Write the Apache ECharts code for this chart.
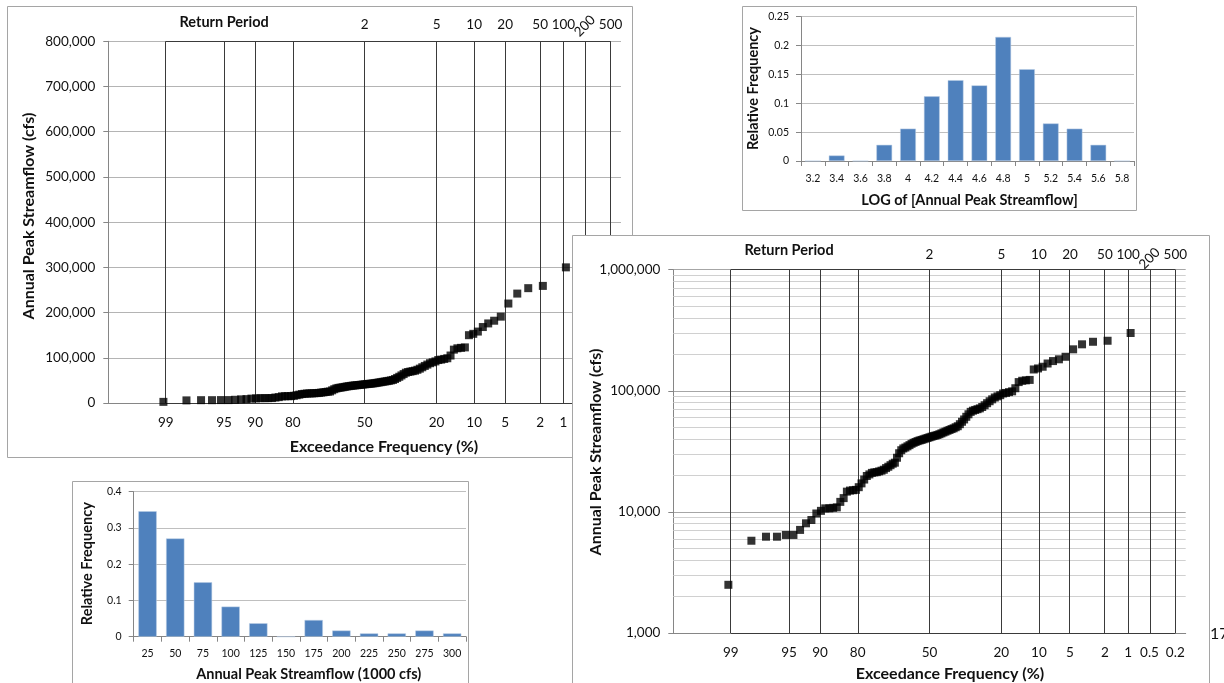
<!DOCTYPE html>
<html><head><meta charset="utf-8">
<script src="https://cdn.jsdelivr.net/npm/echarts/dist/echarts.min.js"></script>
<style>
body{margin:0;background:#fff;width:1224px;height:683px;overflow:hidden;position:relative}
.p{position:absolute;background:#fff}
#pg{position:absolute;left:1210px;top:623px;font:16px Lato;color:#111}
</style></head><body>
<div id="cA" class="p" style="left:7px;top:6px;width:626px;height:452px"></div>
<div id="cB" class="p" style="left:742px;top:6px;width:395px;height:205px"></div>
<div id="cC" class="p" style="left:72px;top:481px;width:397px;height:210px"></div>
<div id="cD" class="p" style="left:572px;top:235px;width:638px;height:460px"></div>
<div id="pg">17</div>
<script>
// ---------------- data ----------------
const exceedTicks = [99, 95, 90, 80, 50, 20, 10, 5, 2, 1, 0.5, 0.2];
const returnPeriods = [2, 5, 10, 20, 50, 100, 200, 500];
const returnTitle = 'Return Period';
const returnTitleAt = 95;
// annual peak streamflow (cfs), ranked from largest to smallest
const flows = [300000, 259000, 254000, 242000, 220000, 191000, 182000, 176000, 168000, 158000,
  153000, 150000, 123000, 122000, 121000, 118000, 105000, 99000, 97500, 96000,
  95000, 92000, 90000, 88000, 85000, 82000, 79000, 76000, 73500, 71600,
  70500, 69500, 68500, 67000, 64000, 61000, 58000, 55500, 53000, 51000,
  50000, 49000, 48300, 47500, 46800, 46000, 45300, 44500, 43800, 43200,
  42700, 42300, 41800, 41300, 40800, 40300, 39800, 39300, 38900, 38400,
  37800, 37200, 36500, 35600, 34800, 34000, 33400, 32300, 30500, 28000,
  25500, 25000, 24300, 23600, 23000, 22300, 21900, 21600, 21300, 21200,
  21000, 20400, 19800, 18500, 17200, 16000, 15200, 15100, 15000, 14700,
  13000, 12100, 10900, 10800, 10700, 10700, 10200, 9700, 8570, 8050,
  7100, 6450, 6450, 6240, 6240, 5780, 2500];
const linBins = ['25', '50', '75', '100', '125', '150', '175', '200', '225', '250', '275', '300'];
const linFreq = [0.346, 0.271, 0.150, 0.083, 0.037, 0, 0.046, 0.017, 0.009, 0.009, 0.017, 0.009];
const logBins = ['3.2', '3.4', '3.6', '3.8', '4', '4.2', '4.4', '4.6', '4.8', '5', '5.2', '5.4', '5.6', '5.8'];
const logFreq = [0, 0.0095, 0, 0.028, 0.056, 0.112, 0.140, 0.131, 0.215, 0.159, 0.065, 0.056, 0.028, 0];

// ---------------- helpers ----------------
const FONT = 'Lato';
const TXT = '#111';
const AX = '#868686';
function normInv(p){
  const a=[-3.969683028665376e+01,2.209460984245205e+02,-2.759285104469687e+02,1.383577518672690e+02,-3.066479806614716e+01,2.506628277459239e+00];
  const b=[-5.447609879822406e+01,1.615858368580409e+02,-1.556989798598866e+02,6.680131188771972e+01,-1.328068155288572e+01];
  const c=[-7.784894002430293e-03,-3.223964580411365e-01,-2.400758277161838e+00,-2.549732539343734e+00,4.374664141464968e+00,2.938163982698783e+00];
  const d=[7.784695709041462e-03,3.224671290700398e-01,2.445134137142996e+00,3.754408661907416e+00];
  const pl=0.02425, ph=1-pl; let q, r;
  if(p<pl){q=Math.sqrt(-2*Math.log(p));return (((((c[0]*q+c[1])*q+c[2])*q+c[3])*q+c[4])*q+c[5])/((((d[0]*q+d[1])*q+d[2])*q+d[3])*q+1);}
  if(p<=ph){q=p-0.5;r=q*q;return (((((a[0]*r+a[1])*r+a[2])*r+a[3])*r+a[4])*r+a[5])*q/(((((b[0]*r+b[1])*r+b[2])*r+b[3])*r+b[4])*r+1);}
  q=Math.sqrt(-2*Math.log(1-p));return -(((((c[0]*q+c[1])*q+c[2])*q+c[3])*q+c[4])*q+c[5])/((((d[0]*q+d[1])*q+d[2])*q+d[3])*q+1);
}
// exceedance (%) -> normal-probability axis value
const zOf = p => -normInv(p / 100);
const key = v => v.toFixed(6);
const n = flows.length;
const points = flows.map((f, i) => [zOf(100 * (i + 1) / (n + 1)), f]);

function probChart(id, o){
  const el = document.getElementById(id);
  const W = el.clientWidth, H = el.clientHeight;
  const chart = echarts.init(el, null, {renderer: 'canvas', width: W, height: H});
  const zTicks = exceedTicks.map(zOf);
  const lab = {}; exceedTicks.forEach(p => lab[key(zOf(p))] = String(p));
  const topVals = [zOf(returnTitleAt)].concat(returnPeriods.filter(t => t !== 200).map(t => zOf(100 / t)));
  const topLab = {}; topLab[key(zOf(returnTitleAt))] = '{b|' + returnTitle + '}';
  returnPeriods.forEach(t => topLab[key(zOf(100 / t))] = String(t));
  const zL = zTicks[0], zR = zTicks[zTicks.length - 1];
  const series = [];
  if (o.minor) {
    series.push({type: 'line', data: [], z: 1, silent: true,
      markLine: {silent: true, symbol: ['none', 'none'], label: {show: false}, animation: false,
        lineStyle: {color: '#d0d0d0', width: 1, type: 'solid'},
        data: o.minor.map(v => ({yAxis: v}))}});
  }
  series.push({type: 'line', data: [], z: 2, silent: true,
    markLine: {silent: true, symbol: ['none', 'none'], label: {show: false}, animation: false,
      lineStyle: {color: '#3a3a3a', width: 1, type: 'solid'},
      data: zTicks.map(z => ({xAxis: z})).concat([
        [{coord: [zL, o.yMax]}, {coord: [zR, o.yMax]}],
        [{coord: [zL, o.yMin]}, {coord: [zR, o.yMin]}]])}});
  series.push({type: 'scatter', data: points, symbol: 'rect', symbolSize: 8, z: 5, silent: true,
    itemStyle: {color: '#000'}});
  const yAxis = Object.assign({
    min: o.yMin, max: o.yMax,
    axisLine: {show: true, onZero: false, lineStyle: {color: AX}},
    axisTick: {show: true, length: 5, lineStyle: {color: AX}},
    splitLine: {show: true, lineStyle: {color: o.gridColor}},
    axisLabel: {formatter: v => Number(v).toLocaleString('en-US'), fontSize: 13.5, fontFamily: FONT, color: TXT, margin: 13}
  }, o.yAxis);
  chart.setOption({
    animation: false, backgroundColor: '#fff',
    textStyle: {fontFamily: FONT},
    grid: o.grid,
    xAxis: [
      {type: 'value', min: -3, max: 3, position: 'bottom',
        axisLine: {show: true, onZero: false, lineStyle: {color: AX}},
        axisTick: {show: false}, splitLine: {show: false},
        axisLabel: {customValues: zTicks, formatter: v => lab[key(v)] || '', fontSize: 13.5, fontFamily: FONT, color: TXT, margin: o.xMargin}},
      {type: 'value', min: -3, max: 3, position: 'top',
        axisLine: {show: false, onZero: false}, axisTick: {show: false}, splitLine: {show: false},
        axisLabel: {customValues: topVals, formatter: v => topLab[key(v)] || '', fontSize: 13.5, fontFamily: FONT, color: TXT, margin: o.topMargin,
          rich: {b: {fontWeight: 'bold', fontSize: 14.5, fontFamily: FONT, color: TXT, padding: [0, 0, o.titleRaise, 0]}}}}
    ],
    yAxis: yAxis,
    series: series
  });
  const px = chart.convertToPixel({xAxisIndex: 0}, zOf(100 / 200));
  chart.setOption({graphic: [
    {type: 'rect', silent: true, z: 100, shape: {x: 0.5, y: 0.5, width: W - 1, height: H - 1}, style: {fill: 'none', stroke: '#a5a5a5', lineWidth: 1}},
    {type: 'text', silent: true, x: o.xTitle[0], y: o.xTitle[1], style: {text: 'Exceedance Frequency (%)', font: 'bold 16px ' + FONT, fill: TXT, align: 'center', verticalAlign: 'middle'}},
    {type: 'text', silent: true, x: o.yTitle[0], y: o.yTitle[1], rotation: Math.PI / 2, style: {text: 'Annual Peak Streamflow (cfs)', font: 'bold 16px ' + FONT, fill: TXT, align: 'center', verticalAlign: 'middle'}},
    {type: 'text', silent: true, x: px, y: o.r200y, rotation: Math.PI / 4, style: {text: '200', font: '13.5px ' + FONT, fill: TXT, align: 'center', verticalAlign: 'middle'}}
  ]});
}

function histChart(id, o){
  const el = document.getElementById(id);
  const W = el.clientWidth, H = el.clientHeight;
  const chart = echarts.init(el, null, {renderer: 'canvas', width: W, height: H});
  chart.setOption({
    animation: false, backgroundColor: '#fff',
    textStyle: {fontFamily: FONT},
    grid: o.grid,
    xAxis: {type: 'category', data: o.cats,
      axisLine: {show: true, lineStyle: {color: AX}},
      axisTick: {show: true, length: 5, lineStyle: {color: AX}},
      axisLabel: {interval: 0, fontSize: 10.5, fontFamily: FONT, color: TXT, margin: o.xMargin}},
    yAxis: {type: 'value', min: 0, max: o.yMax, interval: o.yInt,
      axisLine: {show: true, lineStyle: {color: AX}},
      axisTick: {show: true, length: 5, lineStyle: {color: AX}},
      splitLine: {show: true, lineStyle: {color: '#bfbfbf'}},
      axisLabel: {fontSize: 10.5, fontFamily: FONT, color: TXT, margin: 12}},
    series: [{type: 'bar', data: o.vals, barWidth: '66%', silent: true,
      itemStyle: {color: '#4F81BD', borderColor: '#b9cde5', borderWidth: 0.5}}],
    graphic: [
      {type: 'rect', silent: true, z: 100, shape: {x: 0.5, y: 0.5, width: W - 1, height: H - 1}, style: {fill: 'none', stroke: '#a5a5a5', lineWidth: 1}},
      {type: 'text', silent: true, x: o.xTitle[0], y: o.xTitle[1], style: {text: o.xName, font: 'bold 14.5px ' + FONT, fill: TXT, align: 'center', verticalAlign: 'middle'}},
      {type: 'text', silent: true, x: o.yTitle[0], y: o.yTitle[1], rotation: Math.PI / 2, style: {text: 'Relative Frequency', font: 'bold 14.5px ' + FONT, fill: TXT, align: 'center', verticalAlign: 'middle'}}
    ]
  });
}

probChart('cA', {
  grid: {left: 101.3, right: 12, top: 35.3, bottom: 55},
  yMin: 0, yMax: 800000, yAxis: {type: 'value', interval: 100000}, gridColor: '#b4b4b4',
  xMargin: 13, topMargin: 10, titleRaise: 1, r200y: 20,
  xTitle: [377, 440.7], yTitle: [22, 210]
});
histChart('cB', {
  grid: {left: 59, right: 3, top: 10.7, bottom: 50},
  cats: logBins, vals: logFreq, yMax: 0.25, yInt: 0.05, xMargin: 12,
  xName: 'LOG of [Annual Peak Streamflow]', xTitle: [227.5, 194], yTitle: [11, 82.5]
});
histChart('cC', {
  grid: {left: 61.7, right: 3, top: 10.7, bottom: 54.3},
  cats: linBins, vals: linFreq, yMax: 0.4, yInt: 0.1, xMargin: 11,
  xName: 'Annual Peak Streamflow (1000 cfs)', xTitle: [236.7, 193], yTitle: [15, 82.7]
});
const minorVals = [];
[1000, 10000, 100000].forEach(d => { for (let k = 2; k <= 9; k++) minorVals.push(d * k); });
probChart('cD', {
  grid: {left: 101.3, right: 24.3, top: 34.7, bottom: 62},
  yMin: 1000, yMax: 1000000, yAxis: {type: 'log', logBase: 10}, gridColor: '#a6a6a6', minor: minorVals,
  xMargin: 13, topMargin: 8, titleRaise: 4, r200y: 23.5,
  xTitle: [378, 439], yTitle: [24, 217]
});
</script>
</body></html>
